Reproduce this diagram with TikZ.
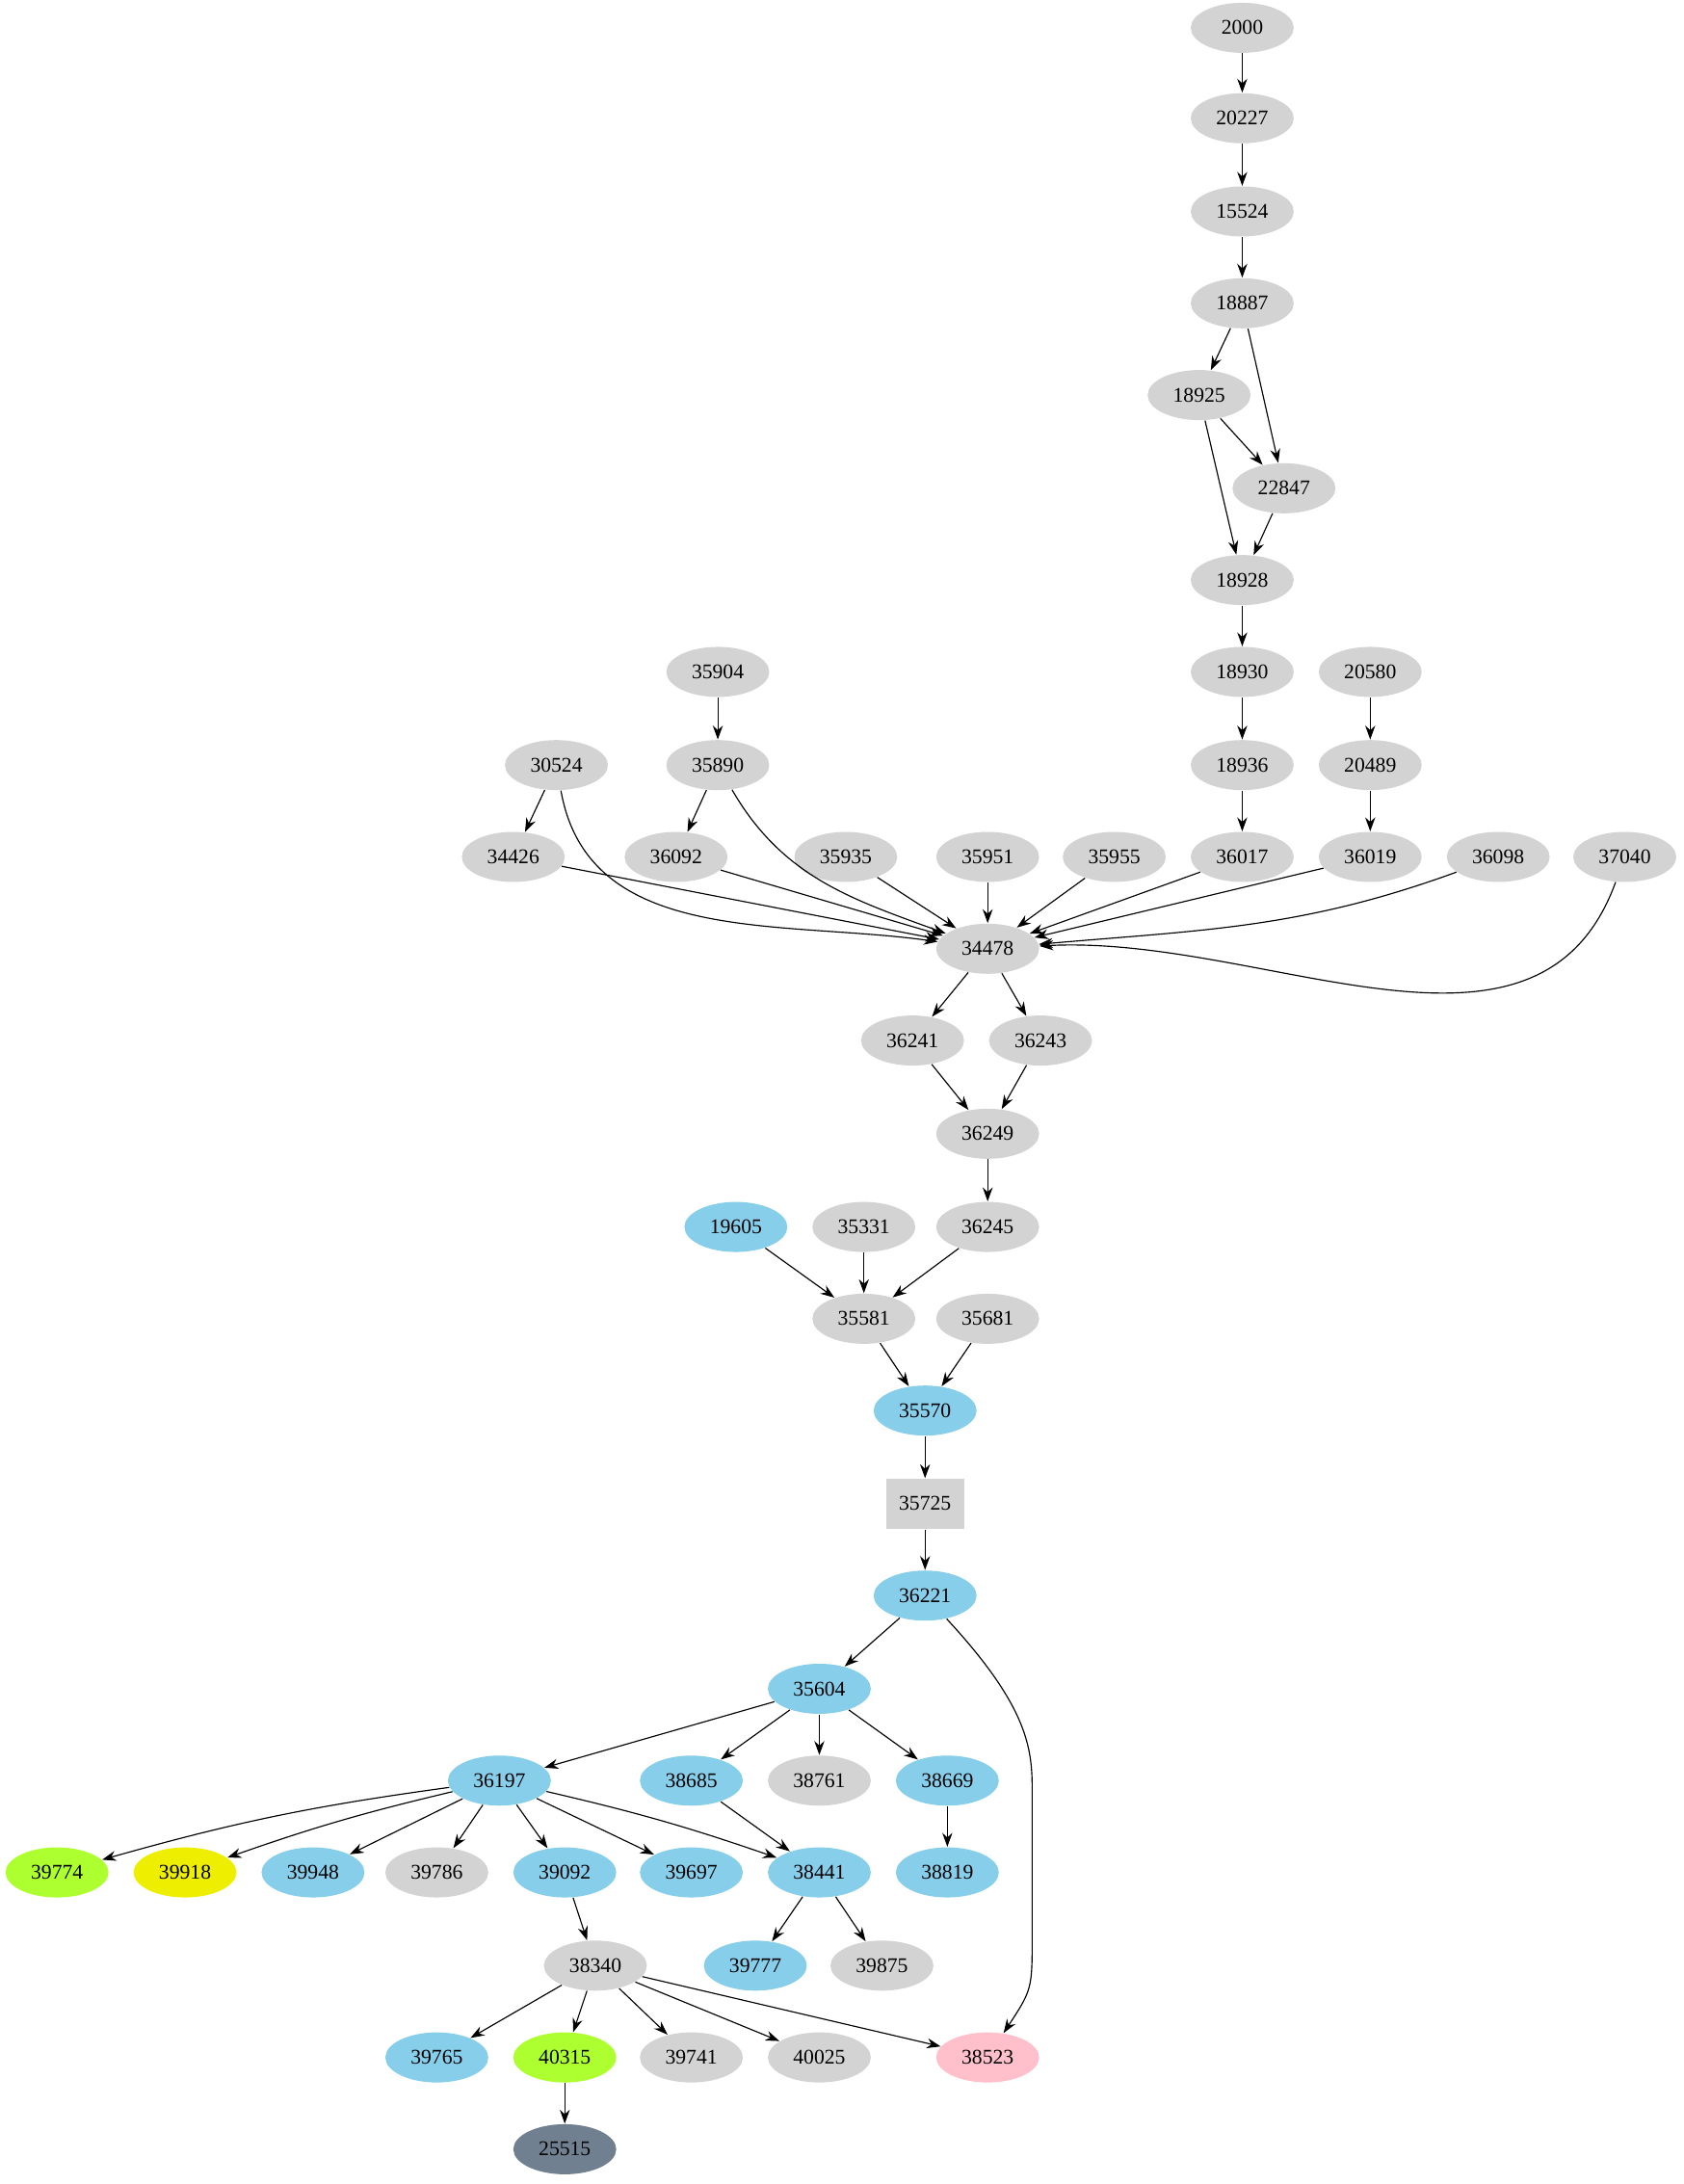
\documentclass[tikz,border=0pt]{standalone}
\usepackage{fontspec}
\setmainfont{Liberation Serif}
\usetikzlibrary{arrows.meta,shapes.geometric}
\definecolor{gr}{RGB}{211,211,211}
\definecolor{sky}{RGB}{135,206,235}
\definecolor{lime}{RGB}{173,255,47}
\definecolor{yel}{RGB}{238,238,0}
\definecolor{pnk}{RGB}{255,192,203}
\definecolor{slate}{RGB}{112,128,144}
\tikzset{
	nd/.style={ellipse,fill=gr,minimum width=37pt,minimum height=18pt,inner sep=0pt,font=\fontsize{7.5}{9}\selectfont},
	sk/.style={nd,fill=sky},
	ar/.style={-{Stealth[length=5pt,width=3.6pt]},line width=0.4pt}
}
\begin{document}
\begin{tikzpicture}[x=0.5pt,y=-0.5pt]
	\useasboundingbox (0,0) rectangle (1210,1570);
	\node[nd] (n2000) at (893,20) {2000};
	\node[nd] (n20227) at (893,85) {20227};
	\node[nd] (n15524) at (893,152) {15524};
	\node[nd] (n18887) at (893,218) {18887};
	\node[nd] (n18925) at (862,284) {18925};
	\node[nd] (n22847) at (923,351) {22847};
	\node[nd] (n18928) at (893,417) {18928};
	\node[nd] (n18930) at (893,483) {18930};
	\node[nd] (n20580) at (985,483) {20580};
	\node[nd] (n18936) at (893,550) {18936};
	\node[nd] (n20489) at (985,550) {20489};
	\node[nd] (n35904) at (516,483) {35904};
	\node[nd] (n30524) at (400,550) {30524};
	\node[nd] (n35890) at (516,550) {35890};
	\node[nd] (n34426) at (369,616) {34426};
	\node[nd] (n36092) at (486,616) {36092};
	\node[nd] (n35935) at (608,616) {35935};
	\node[nd] (n35951) at (710,616) {35951};
	\node[nd] (n35955) at (801,616) {35955};
	\node[nd] (n36017) at (893,616) {36017};
	\node[nd] (n36019) at (985,616) {36019};
	\node[nd] (n36098) at (1077,616) {36098};
	\node[nd] (n37040) at (1168,616) {37040};
	\node[nd] (n34478) at (710,682) {34478};
	\node[nd] (n36241) at (656,748) {36241};
	\node[nd] (n36243) at (748,748) {36243};
	\node[nd] (n36249) at (710,815) {36249};
	\node[sk] (n19605) at (529,882) {19605};
	\node[nd] (n35331) at (621,882) {35331};
	\node[nd] (n36245) at (710,882) {36245};
	\node[nd] (n35581) at (621,948) {35581};
	\node[nd] (n35681) at (710,948) {35681};
	\node[sk] (n35570) at (665,1014) {35570};
	\node[rectangle,fill=gr,minimum width=28pt,minimum height=18pt,inner sep=0pt,font=\fontsize{7.5}{9}\selectfont] (n35725) at (665,1081) {35725};
	\node[sk] (n36221) at (665,1147) {36221};
	\node[sk] (n35604) at (589,1214) {35604};
	\node[sk] (n36197) at (359,1280) {36197};
	\node[sk] (n38685) at (497,1280) {38685};
	\node[nd] (n38761) at (589,1280) {38761};
	\node[sk] (n38669) at (681,1280) {38669};
	\node[nd,fill=lime] (n39774) at (41,1346) {39774};
	\node[nd,fill=yel] (n39918) at (133,1346) {39918};
	\node[sk] (n39948) at (225,1346) {39948};
	\node[nd] (n39786) at (314,1346) {39786};
	\node[sk] (n39092) at (406,1346) {39092};
	\node[sk] (n39697) at (497,1346) {39697};
	\node[sk] (n38441) at (589,1346) {38441};
	\node[sk] (n38819) at (681,1346) {38819};
	\node[nd] (n38340) at (428,1413) {38340};
	\node[sk] (n39777) at (543,1413) {39777};
	\node[nd] (n39875) at (634,1413) {39875};
	\node[sk] (n39765) at (314,1479) {39765};
	\node[nd,fill=lime] (n40315) at (406,1479) {40315};
	\node[nd] (n39741) at (497,1479) {39741};
	\node[nd] (n40025) at (589,1479) {40025};
	\node[nd,fill=pnk] (n38523) at (710,1479) {38523};
	\node[nd,fill=slate] (n25515) at (406,1545) {25515};
	\coordinate (k1) at (742,1290);
	\coordinate (k2) at (742,1390);
	% edges
	\draw[ar] (n2000) -- (n20227);
	\draw[ar] (n20227) -- (n15524);
	\draw[ar] (n15524) -- (n18887);
	\draw[ar] (n18887) -- (n18925);
	\draw[ar] (n18887) -- (n22847);
	\draw[ar] (n18925) -- (n22847);
	\draw[ar] (n18925) -- (n18928);
	\draw[ar] (n22847) -- (n18928);
	\draw[ar] (n18928) -- (n18930);
	\draw[ar] (n18930) -- (n18936);
	\draw[ar] (n18936) -- (n36017);
	\draw[ar] (n20580) -- (n20489);
	\draw[ar] (n20489) -- (n36019);
	\draw[ar] (n35904) -- (n35890);
	\draw[ar] (n30524) -- (n34426);
	\draw[ar] (n35890) -- (n36092);
	\draw[ar] (n30524) to[out=-80,in=172] (n34478);
	\draw[ar] (n35890) to[out=-60,in=160] (n34478);
	\draw[ar] (n34426) -- (n34478);
	\draw[ar] (n36092) -- (n34478);
	\draw[ar] (n35935) -- (n34478);
	\draw[ar] (n35951) -- (n34478);
	\draw[ar] (n35955) -- (n34478);
	\draw[ar] (n36017) -- (n34478);
	\draw[ar] (n36019) -- (n34478);
	\draw[ar] (n36098) to[out=-160,in=5] (n34478);
	\draw[ar] (n37040) to[out=-110,in=3] (n34478);
	\draw[ar] (n34478) -- (n36241);
	\draw[ar] (n34478) -- (n36243);
	\draw[ar] (n36241) -- (n36249);
	\draw[ar] (n36243) -- (n36249);
	\draw[ar] (n36249) -- (n36245);
	\draw[ar] (n19605) -- (n35581);
	\draw[ar] (n35331) -- (n35581);
	\draw[ar] (n36245) -- (n35581);
	\draw[ar] (n35581) -- (n35570);
	\draw[ar] (n35681) -- (n35570);
	\draw[ar] (n35570) -- (n35725);
	\draw[ar] (n35725) -- (n36221);
	\draw[ar] (n36221) -- (n35604);
	\draw[ar] (n36221) .. controls (742,1230) and (742,1260) .. (k1) -- (k2) .. controls (742,1430) .. (n38523);
	\draw[ar] (n35604) -- (n36197);
	\draw[ar] (n35604) -- (n38685);
	\draw[ar] (n35604) -- (n38761);
	\draw[ar] (n35604) -- (n38669);
	\draw[ar] (n38669) -- (n38819);
	\draw[ar] (n38685) -- (n38441);
	\draw[ar] (n36197) to[bend right=4] (n39774);
	\draw[ar] (n36197) to[bend right=3] (n39918);
	\draw[ar] (n36197) -- (n39948);
	\draw[ar] (n36197) -- (n39786);
	\draw[ar] (n36197) -- (n39092);
	\draw[ar] (n36197) -- (n39697);
	\draw[ar] (n36197) to[bend left=3] (n38441);
	\draw[ar] (n38441) -- (n39777);
	\draw[ar] (n38441) -- (n39875);
	\draw[ar] (n39092) -- (n38340);
	\draw[ar] (n38340) -- (n39765);
	\draw[ar] (n38340) -- (n40315);
	\draw[ar] (n38340) -- (n39741);
	\draw[ar] (n38340) -- (n40025);
	\draw[ar] (n38340) -- (n38523);
	\draw[ar] (n40315) -- (n25515);
\end{tikzpicture}
\end{document}
